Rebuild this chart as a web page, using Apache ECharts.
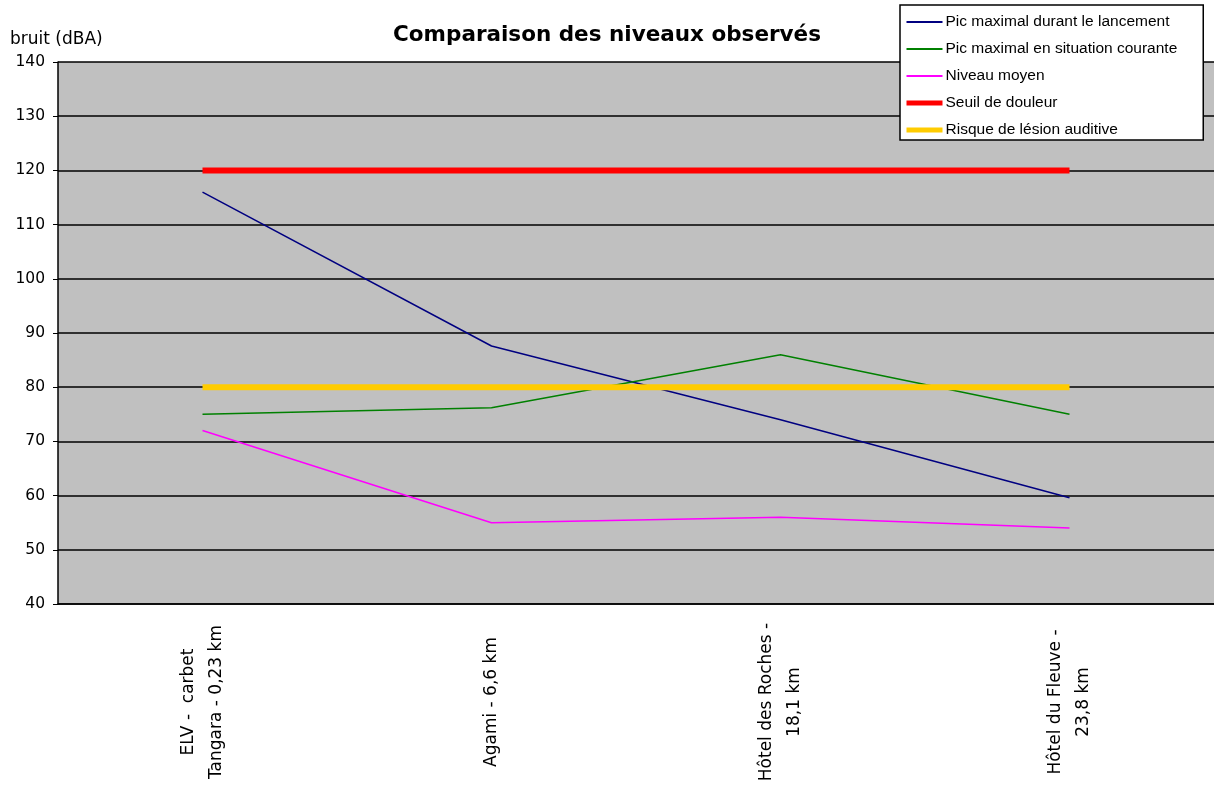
<!DOCTYPE html>
<html>
<head>
  <meta charset="utf-8">
  <title>Comparaison des niveaux observés</title>
  <script src="https://cdn.jsdelivr.net/npm/echarts@6/dist/echarts.min.js"></script>
  <style>
    html,body{margin:0;padding:0;background:#fff;}
    #chart{width:1214px;height:789px;}
  </style>
</head>
<body>
<div id="chart"></div>
<script type="text/javascript">
// categories (2 lignes par lieu)
var lieux = ['ELV -  carbet\nTangara - 0,23 km', 'Agami - 6,6 km', 'Hôtel des Roches -\n18,1 km', 'Hôtel du Fleuve -\n23,8 km'];

var picLancement = [116, 87.6, 74, 59.6];
var picCourant = [75, 76.2, 86, 75];
var niveauMoyen = [72, 55, 56, 54];
var seuilDouleur = [120, 120, 120, 120];
var risqueLesion = [80, 80, 80, 80];

var chart = echarts.init(document.getElementById('chart'));

function serie(name, data, color, width) {
  return {
    name: name,
    type: 'line',
    data: data,
    symbol: 'none',
    animation: false,
    lineStyle: {color: color, width: width},
    itemStyle: {color: color}
  };
}

var option = {
  animation: false,
  title: {
    text: 'Comparaison des niveaux observés',
    left: 'center',
    top: 19,
    textStyle: {fontFamily: 'DejaVu Sans', fontSize: 21.5, fontWeight: 'bold', color: '#000'}
  },
  legend: {
    orient: 'vertical',
    left: 900,
    top: 5,
    backgroundColor: '#fff',
    borderColor: '#000',
    borderWidth: 1.5,
    borderRadius: 0,
    padding: [9, 26, 2, 4],
    itemWidth: 36,
    itemHeight: 14,
    itemGap: 11,
    itemStyle: {opacity: 0},
    lineStyle: {width: 2},
    textStyle: {fontFamily: 'Liberation Sans', fontSize: 15.5, color: '#000', padding: [0, 0, 0, -2]},
    data: [
      'Pic maximal durant le lancement',
      'Pic maximal en situation courante',
      'Niveau moyen',
      {name: 'Seuil de douleur', lineStyle: {width: 5}},
      {name: 'Risque de lésion auditive', lineStyle: {width: 5}}
    ]
  },
  grid: {
    left: 58,
    right: -2,
    top: 62,
    bottom: 185,
    show: true,
    backgroundColor: '#c0c0c0',
    borderWidth: 0
  },
  xAxis: {
    type: 'category',
    data: lieux,
    boundaryGap: true,
    axisLine: {lineStyle: {color: '#000', width: 1.5}},
    axisTick: {length: 5, lineStyle: {color: '#000'}},
    axisLabel: {
      rotate: 90,
      align: 'center',
      margin: 98,
      lineHeight: 28,
      fontFamily: 'DejaVu Sans',
      fontSize: 17,
      color: '#000'
    }
  },
  yAxis: {
    type: 'value',
    min: 40,
    max: 140,
    interval: 10,
    name: 'bruit (dBA)',
    nameLocation: 'end',
    nameGap: 14,
    nameTextStyle: {fontFamily: 'DejaVu Sans', fontSize: 17, color: '#000', align: 'left', padding: [0, 0, 0, -48]},
    axisLine: {show: true, lineStyle: {color: '#000', width: 1.5}},
    axisTick: {show: true, length: 5, lineStyle: {color: '#000'}},
    axisLabel: {fontFamily: 'DejaVu Sans', fontSize: 15.5, color: '#000', margin: 13},
    splitLine: {lineStyle: {color: '#000', width: 1.5}}
  },
  series: [
    serie('Pic maximal durant le lancement', picLancement, '#000080', 1.5),
    serie('Pic maximal en situation courante', picCourant, '#008000', 1.5),
    serie('Niveau moyen', niveauMoyen, '#ff00ff', 1.5),
    serie('Seuil de douleur', seuilDouleur, '#ff0000', 6),
    serie('Risque de lésion auditive', risqueLesion, '#ffcc00', 6)
  ]
};

chart.setOption(option);
</script>
</body>
</html>
